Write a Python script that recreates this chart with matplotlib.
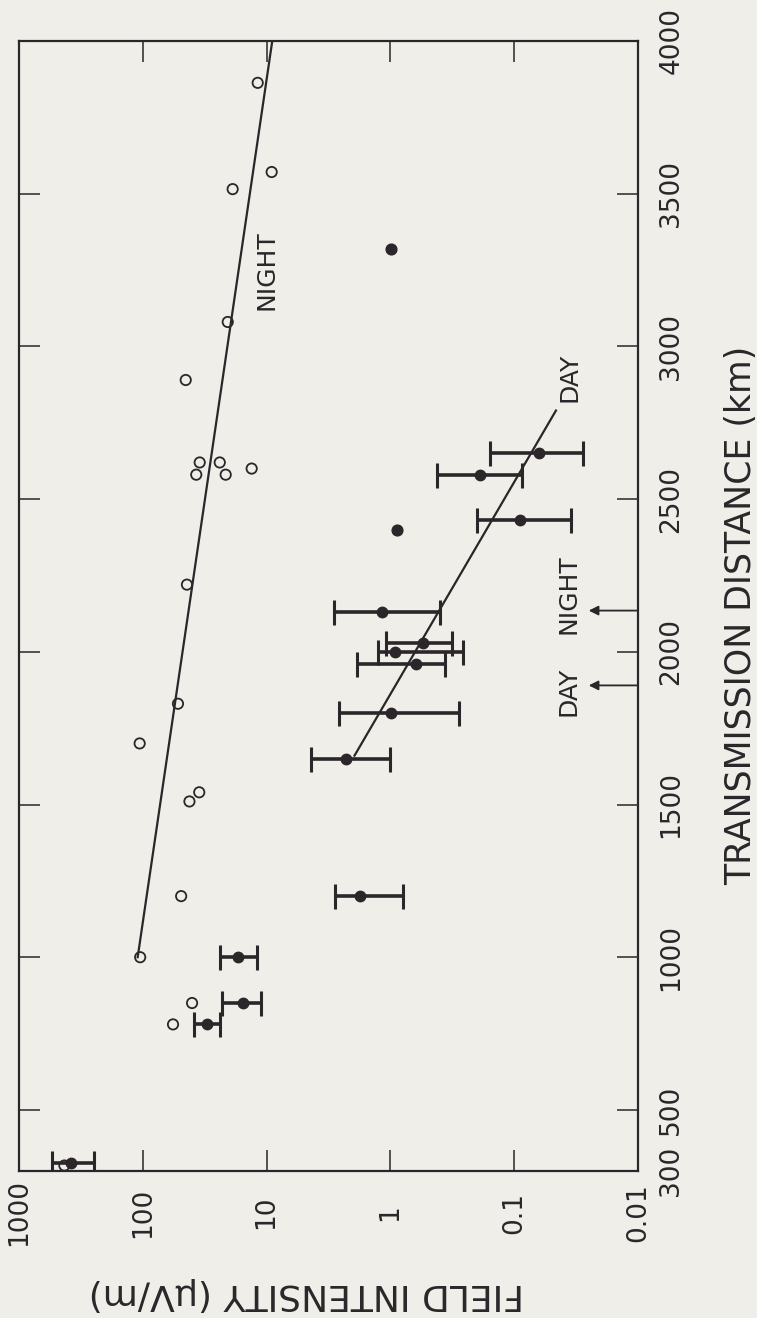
import matplotlib
matplotlib.use("Agg")
import matplotlib.pyplot as plt
from matplotlib import font_manager as fm
from matplotlib.ticker import NullLocator
import numpy as np

# ---------------- data ----------------
# Night observations (open circles): distance km, field intensity uV/m
night_dist = [318, 780, 850, 1000, 1200, 1510, 1540, 1700, 1830, 2220,
              2580, 2620, 2620, 2580, 2600, 2890, 3080, 3515, 3571, 3863]
night_field = [430, 57, 40, 105, 49, 42, 35, 106, 52, 44,
               37, 34.7, 23.9, 21.4, 13.2, 45, 20.6, 18.8, 9.1, 11.8]

# Day observations with error bars (filled circles)
day_dist = [325, 780, 850, 1000, 1200, 1650, 1800, 1960, 2000, 2030, 2130, 2430, 2580, 2650]
day_field = [380, 30.5, 15.6, 17.1, 1.75, 2.3, 0.98, 0.62, 0.91, 0.55, 1.16, 0.09, 0.19, 0.063]
day_low = [250, 23.9, 11.0, 12.0, 0.786, 1.0, 0.278, 0.36, 0.258, 0.316, 0.40, 0.0347, 0.086, 0.028]
day_high = [540, 38.8, 23.0, 23.9, 2.78, 4.34, 2.58, 1.85, 1.27, 1.08, 2.83, 0.199, 0.418, 0.156]

# Day observations without error bars
day_single_dist = [2400, 3320]
day_single_field = [0.88, 0.98]

# Fitted lines
night_line_dist = [1000, 4000]
night_line_field = [110, 9.0]
day_line_dist = [1660, 2790]
day_line_field = [1.95, 0.046]

# Day/night boundary arrows
arrow_dist = [1890, 2135]

x_ticks = [1000, 100, 10, 1, 0.1, 0.01]
x_ticklabels = ["1000", "100", "10", "1", "0.1", "0.01"]
y_ticks = [300, 500, 1000, 1500, 2000, 2500, 3000, 3500, 4000]
y_ticklabels = ["300", "500", "1000", "1500", "2000", "2500", "3000", "3500", "4000"]

# ---------------- style ----------------
BG = "#efeee9"
INK = "#2b2629"


def has_font(name):
    try:
        fm.findfont(fm.FontProperties(family=name), fallback_to_default=False)
        return True
    except Exception:
        return False


if has_font("Liberation Sans Narrow"):
    tick_family = ["Liberation Sans Narrow", "DejaVu Sans"]
    tick_size = 23
else:
    tick_family = ["DejaVu Sans"]
    tick_size = 19

W, H = 757, 1318
fig = plt.figure(figsize=(W / 100, H / 100), dpi=100, facecolor=BG)
L, R, T, B = 19, 638, 41, 1171
ax = fig.add_axes([L / W, 1 - B / H, (R - L) / W, (B - T) / H])
ax.set_facecolor(BG)

ax.set_xscale("log")
ax.set_xlim(1000, 0.01)
ax.set_ylim(300, 4000)

# lines
ax.plot(night_line_field, night_line_dist, color=INK, lw=1.6, zorder=2)
ax.plot(day_line_field, day_line_dist, color=INK, lw=1.6, zorder=2)

# night points
ax.scatter(night_field, night_dist, s=55, facecolors="none", edgecolors=INK,
           linewidths=1.3, zorder=3)

# day points with error bars
xerr = [np.array(day_field) - np.array(day_low), np.array(day_high) - np.array(day_field)]
ax.errorbar(day_field, day_dist, xerr=xerr, fmt="o", color=INK, ms=7.5,
            elinewidth=2.6, capsize=9, capthick=2.2, zorder=4)
ax.scatter(day_single_field, day_single_dist, s=60, color=INK, zorder=4)

# arrows + labels
for d in arrow_dist:
    ax.annotate("", xy=(0.025, d), xytext=(0.0101, d),
                arrowprops=dict(arrowstyle="-|>", color=INK, lw=1.3,
                                mutation_scale=14, shrinkA=0, shrinkB=0), zorder=5)
ax.text(0.0367, 1870, "DAY", rotation=90, ha="center", va="center",
        fontsize=18, color=INK)
ax.text(0.0367, 2190, "NIGHT", rotation=90, ha="center", va="center",
        fontsize=18, color=INK)
ax.text(10.0, 3250, "NIGHT", rotation=90, ha="center", va="center",
        fontsize=18, color=INK)
ax.text(0.036, 2900, "DAY", rotation=90, ha="center", va="center",
        fontsize=18, color=INK)

# axes styling
for s in ax.spines.values():
    s.set_color(INK)
    s.set_linewidth(1.6)

ax.set_xticks(x_ticks)
ax.set_xticklabels(x_ticklabels)
ax.xaxis.set_minor_locator(NullLocator())
ax.set_yticks(y_ticks)
ax.set_yticklabels(y_ticklabels)
ax.yaxis.set_minor_locator(NullLocator())

ax.tick_params(axis="x", which="major", direction="in", length=15, width=1.1,
               color=INK, top=True, bottom=True, labelbottom=True, pad=30,
               labelsize=tick_size, labelcolor=INK)
ax.tick_params(axis="y", which="major", direction="in", length=15, width=1.1,
               color=INK, left=True, right=True, labelleft=False, labelright=True,
               pad=24, labelsize=tick_size, labelcolor=INK)

for lab in ax.get_xticklabels():
    lab.set_rotation(90)
    lab.set_va("center")
    lab.set_ha("center")
    lab.set_family(tick_family)
for lab in ax.get_yticklabels():
    lab.set_rotation(90)
    lab.set_va("center")
    lab.set_ha("center")
    lab.set_family(tick_family)

# axis titles (rotated as in the reference)
fig.text(741 / W, 1 - 615 / H, "TRANSMISSION DISTANCE (km)", rotation=90,
         ha="center", va="center", fontsize=25, color=INK)
fig.text(306 / W, 1 - 1294 / H, "FIELD INTENSITY (\u03bcV/m)", rotation=180,
         ha="center", va="center", fontsize=26, color=INK)

fig.savefig("out.png", dpi=100, facecolor=BG)
